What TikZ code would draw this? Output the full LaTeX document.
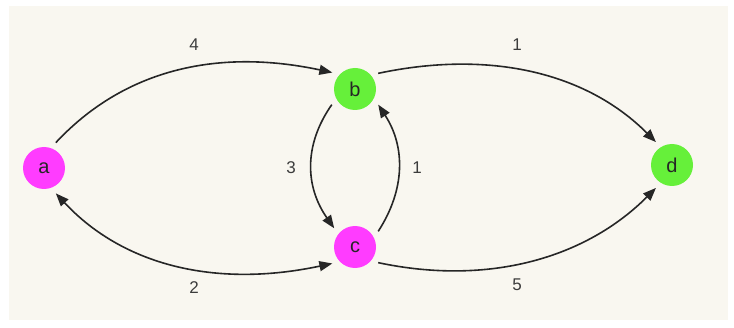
\documentclass[tikz,border=0pt]{standalone}
\usepackage{fontspec}
\setmainfont{Liberation Sans}
\usetikzlibrary{arrows.meta}
\definecolor{paper}{HTML}{F9F7F0}
\definecolor{pinkv}{HTML}{FF3CFF}
\definecolor{greenv}{HTML}{66F03A}
\definecolor{weightgray}{HTML}{3C3C3C}
\begin{document}
\begin{tikzpicture}[x=1pt,y=1pt,
  >={Triangle[length=13pt,width=10pt]},
  vertex/.style={circle,minimum size=42pt,inner sep=0pt,outer sep=7pt,text=black!85,font=\fontsize{20}{20}\selectfont},
  weight/.style={text=weightgray,font=\fontsize{17}{17}\selectfont},
  edge/.style={line width=1.6pt,draw=black!85,->}]
\useasboundingbox (0,0) rectangle (734,327);
\fill[paper] (9,7) rectangle (728,321);
\node[vertex,fill=pinkv] (a) at (44,159) {a};
\node[vertex,fill=greenv] (b) at (355,238) {b};
\node[vertex,fill=pinkv] (c) at (355,80) {c};
\node[vertex,fill=greenv] (d) at (672,162) {d};
\draw[edge] (a.65) to[out=47,in=168,out distance=98pt,in distance=120pt] (b.144);
\draw[edge] (b.34) to[out=12,in=135,out distance=112pt,in distance=100pt] (d.125);
\draw[edge] (b.214) to[out=235,in=125,out distance=50pt,in distance=50pt] (c.138);
\draw[edge] (c.34) to[out=57,in=303,out distance=50pt,in distance=50pt] (b.326);
\draw[edge,<->] (a.295) to[out=313,in=192,out distance=98pt,in distance=120pt] (c.216);
\draw[edge] (c.326) to[out=348,in=225,out distance=112pt,in distance=100pt] (d.235);
\node[weight] (wab) at (194,282) {4};
\node[weight] (wbd) at (517,282) {1};
\node[weight] (wbc) at (291,159) {3};
\node[weight] (wcb) at (417,159) {1};
\node[weight] (wac) at (194,39) {2};
\node[weight] (wcd) at (517,42) {5};
\end{tikzpicture}
\end{document}
